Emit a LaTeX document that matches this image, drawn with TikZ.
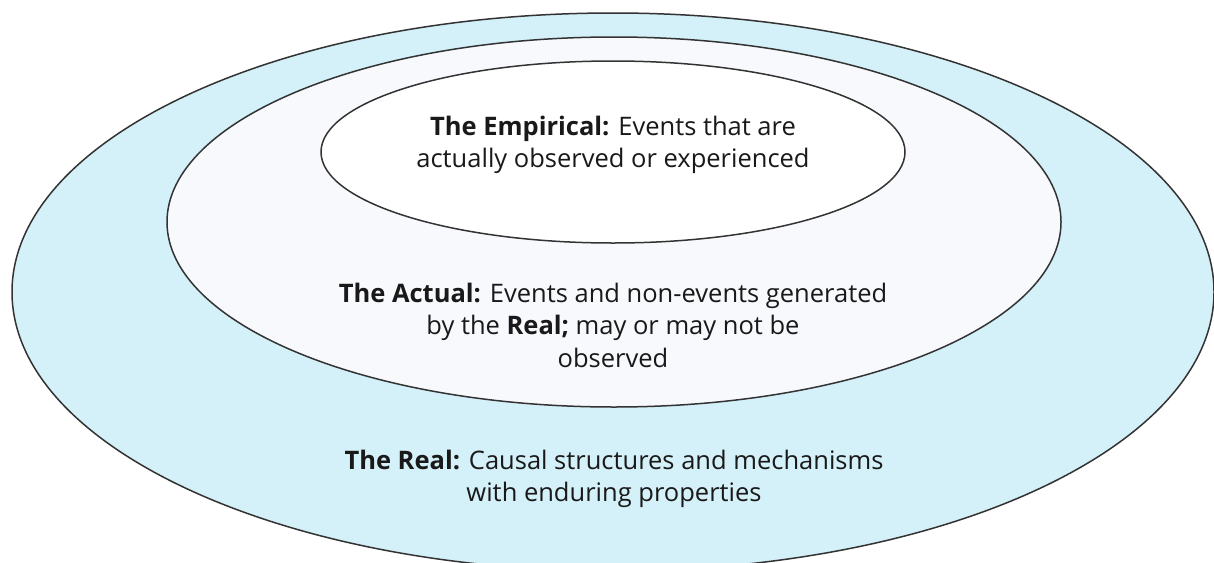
\documentclass[tikz,border=0pt]{standalone}
\usepackage{fontspec}
\setmainfont{Open Sans}
\usetikzlibrary{shapes.geometric}
\definecolor{realblue}{HTML}{D4F0F8}
\definecolor{actualwhite}{HTML}{F8F9FD}
\definecolor{rimgray}{HTML}{333333}
\tikzset{
  layer/.style={draw=rimgray, line width=1.5pt, ellipse, inner sep=0pt},
  layertext/.style={align=center, font=\fontsize{25.5}{32.5}\selectfont, text=black!90}
}
\begin{document}
\begin{tikzpicture}[x=1pt, y=1pt]
    \useasboundingbox (0, 0) rectangle (1214, -562);

    % Real layer
    \node [layer, fill=realblue, minimum width=1202pt, minimum height=558pt]
          (real) at (613, -292) {};
    \node [layertext] (realtext) at (614, -479)
          {\textbf{The Real:} Causal structures and mechanisms\\
           with enduring properties};

    % Actual layer
    \node [layer, fill=actualwhite, minimum width=894pt, minimum height=370pt]
          (actual) at (614, -222) {};
    \node [layertext] (actualtext) at (613, -325)
          {\textbf{The Actual:} Events and non-events generated\\
           by the \textbf{Real;} may or may not be\\
           observed};

    % Empirical layer
    \node [layer, fill=white, minimum width=584pt, minimum height=182pt]
          (empirical) at (613, -152) {};
    \node [layertext] (empiricaltext) at (613, -145)
          {\textbf{The Empirical:} Events that are\\
           actually observed or experienced};
  \end{tikzpicture}
\end{document}
